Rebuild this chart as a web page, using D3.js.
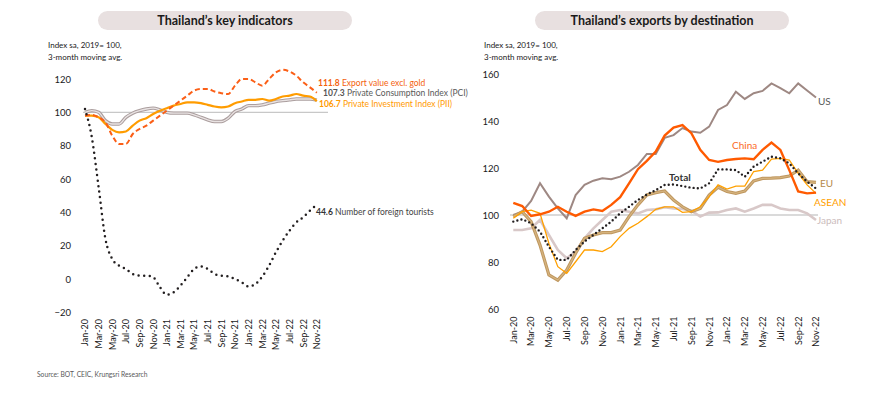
<!DOCTYPE html>
<html><head><meta charset="utf-8">
<script src="https://cdn.jsdelivr.net/npm/d3@7/dist/d3.min.js"></script>
<style>
html,body{margin:0;padding:0;background:#fff;}
svg{display:block;font-family:Lato,"Open Sans",sans-serif;}
</style></head>
<body>
<svg id="c" width="870" height="398"></svg>
<script>
const months = ["Jan-20","Feb-20","Mar-20","Apr-20","May-20","Jun-20","Jul-20","Aug-20","Sep-20","Oct-20","Nov-20","Dec-20",
"Jan-21","Feb-21","Mar-21","Apr-21","May-21","Jun-21","Jul-21","Aug-21","Sep-21","Oct-21","Nov-21","Dec-21",
"Jan-22","Feb-22","Mar-22","Apr-22","May-22","Jun-22","Jul-22","Aug-22","Sep-22","Oct-22","Nov-22"];
const tickMonths = ["Jan-20","Mar-20","May-20","Jul-20","Sep-20","Nov-20","Jan-21","Mar-21","May-21","Jul-21","Sep-21","Nov-21","Jan-22","Mar-22","May-22","Jul-22","Sep-22","Nov-22"];
const leftTicks = [-20,0,20,40,60,80,100,120];
const rightTicks = [60,80,100,120,140,160];

// Left chart: Thailand's key indicators
const exportExGold = [98,98.5,97,94,86,81,81,87,90,92,95,98,101,104,107,110,113,114,114,112.5,111.5,111,116,120,120,118,116,120,124,125.5,124.5,122,118,115,111.8];
const pci = [100,101,100,95,93,93,97,99.5,101,102,102.5,101.5,100,99.5,99.5,99.5,98.5,97,95.5,94.5,94.5,96.5,100.5,102,104,104,104.5,105.5,106.5,107,107.5,108,108,108,107.3];
const pii = [98,98,97,93,89.5,88,88.5,92,95,96.5,99,101,102.5,104,105,106,106,105.5,104.5,103.5,103,103.5,105.5,106.5,107.5,107.5,108,107,108,109.5,110,111,110,109.5,106.7];
const tourists = [102,85,55,24,12,8,6,3,2,2,1,-5,-9.5,-8,-4,1,6,7.5,6,3,2,1.5,0,-2,-4.5,-3,1.5,8,16,23,29,34,37,41,44.6];

// Right chart: Thailand's exports by destination
const us = [100,101.4,106,113.5,107.8,102.8,98.6,108.5,112.8,114.6,115.6,115.2,116.3,118.4,121.3,126,126,132.8,134,137,135.5,135,137.6,144.7,146.8,152.5,149.4,151.8,152.8,156,154,151.8,156,153,150];
const china = [105.2,103.8,99.6,100.3,101.4,103.5,101.4,99.6,101.4,102.4,101.7,104.3,107.6,113.5,119.5,123,127,133.8,137.2,138.3,134.8,127.7,123.4,122.6,123.4,123.8,124.1,123.7,127.7,130.8,127.7,119.1,110,109.2,109.5];
const total = [97.2,98.2,96.5,92.9,86.5,80.9,80.9,85.1,88.7,91.5,94.3,97.2,100.7,103.5,106.4,108.7,110.6,112.8,113,112.3,111.6,111.3,113.5,119.4,119.4,119.1,116.3,120.6,122.7,124.8,124.1,122,117.7,114.2,111.3];
const eu = [99.3,101.4,97.2,87.2,74.5,72.3,76.6,83.7,90.1,91.5,92.5,92.5,93.6,99.3,104.3,108.5,109.5,110.2,106.4,103.5,101.4,102.8,108.5,111.8,110,109.2,110.2,114.5,115.6,115.7,115.9,116.6,119.1,114.2,113.9];
const asean = [98.6,101.4,102.1,100.7,87.9,78,75.2,80.1,85.1,85.1,84.4,86.5,90.8,94.3,96.5,99.3,102.4,103.5,103.5,101.1,101.4,103.5,107.8,112.8,111,112.3,112.3,118.5,119.1,123.8,124.1,123.4,117.7,112.8,109.2];
const japan = [93.6,93.6,94.3,97.9,91.5,85.1,81.6,84.4,90.1,94.3,97.9,101.4,102.1,101.4,100.7,102.1,102.4,103.3,102.8,102.6,101.8,99.3,101,101.1,102.1,102.8,101.4,102.8,104.3,104.3,102.8,102.1,102.1,100.7,97.9];

const svg = d3.select("#c");

// Title pills
function title(cx, text){
  svg.append("rect").attr("x",cx-127).attr("y",11).attr("width",254).attr("height",19)
    .attr("rx",9.5).attr("fill","#e8e0e0");
  svg.append("text").attr("x",cx).attr("y",20.5).attr("text-anchor","middle")
    .attr("dominant-baseline","central").attr("font-size",12.5).attr("font-weight","bold")
    .attr("fill","#1a1a1a").text(text);
}
title(225,"Thailand’s key indicators");
title(662,"Thailand’s exports by destination");

function subtitle(x){
  const t = svg.append("text").attr("font-size",8).attr("fill","#1a1a1a");
  t.append("tspan").attr("x",x).attr("y",48).text("Index sa, 2019= 100,");
  t.append("tspan").attr("x",x).attr("y",60).text("3-month moving avg.");
}
subtitle(48); subtitle(484);

// ---------- Left chart ----------
const xL = d3.scalePoint().domain(months).range([85,316.8]);
const yL = d3.scaleLinear().domain([-20,120]).range([312.3,79]);

const gL = svg.append("g");
const axYL = d3.axisLeft(yL).tickValues(leftTicks).tickSize(0).tickPadding(0);
gL.append("g").attr("transform","translate(71,0)").call(axYL)
  .call(g=>g.select(".domain").remove())
  .call(g=>g.selectAll("text").attr("font-size",9.5).attr("fill","#1a1a1a").attr("font-family","Lato,sans-serif"));
const axXL = d3.axisBottom(xL).tickValues(tickMonths).tickSize(0);
gL.append("g").attr("transform","translate(0,319)").call(axXL)
  .call(g=>g.select(".domain").remove())
  .call(g=>g.selectAll("text").attr("font-size",9).attr("fill","#1a1a1a").attr("font-family","Lato,sans-serif")
     .attr("text-anchor","end").attr("transform","rotate(-90)").attr("dy","0.32em").attr("x",0).attr("y",0));

gL.append("line").attr("x1",83).attr("x2",328).attr("y1",yL(100)).attr("y2",yL(100))
  .attr("stroke","#c8c8c8").attr("stroke-width",1.2);

const lineL = d3.line().x((d,i)=>xL(months[i])).y(d=>yL(d)).curve(d3.curveMonotoneX);
gL.append("path").attr("d",lineL(pci)).attr("fill","none").attr("stroke","#ab9e9e").attr("stroke-width",3.4);
gL.append("path").attr("d",lineL(pci)).attr("fill","none").attr("stroke","#e9e3e3").attr("stroke-width",1.3);
gL.append("path").attr("d",lineL(pii)).attr("fill","none").attr("stroke","#ff9c00").attr("stroke-width",2.2);
gL.append("path").attr("d",lineL(exportExGold)).attr("fill","none").attr("stroke","#fb5f17").attr("stroke-width",2)
  .attr("stroke-dasharray","5,3");
gL.append("path").attr("d",lineL(tourists)).attr("fill","none").attr("stroke","#231f20").attr("stroke-width",2.5)
  .attr("stroke-linecap","round").attr("stroke-dasharray","0,5.6");

function endLabel(g,x,y,val,txt,colBold,col){
  const t = g.append("text").attr("x",x).attr("y",y).attr("dominant-baseline","central").attr("font-size",8.5);
  t.append("tspan").attr("font-weight","bold").attr("fill",colBold).text(val);
  t.append("tspan").attr("fill",col).text(" "+txt);
}
endLabel(gL,318,82.5,"111.8","Export value excl. gold","#f4620e","#f4620e");
endLabel(gL,323,92.5,"107.3","Private Consumption Index (PCI)","#555","#595959");
endLabel(gL,319,104,"106.7","Private Investment Index (PII)","#ff9a00","#ff9a00");
endLabel(gL,316,212,"44.6","Number of foreign tourists","#333","#444");

svg.append("text").attr("x",37).attr("y",374).attr("dominant-baseline","central").attr("font-size",6.7).attr("fill","#595959")
  .text("Source: BOT, CEIC, Krungsri Research");

// ---------- Right chart ----------
const xR = d3.scalePoint().domain(months).range([513.3,816]);
const yR = d3.scaleLinear().domain([60,160]).range([309,74]);
const gR = svg.append("g");
const axYR = d3.axisLeft(yR).tickValues(rightTicks).tickSize(0).tickPadding(0);
gR.append("g").attr("transform","translate(499,0)").call(axYR)
  .call(g=>g.select(".domain").remove())
  .call(g=>g.selectAll("text").attr("font-size",9.5).attr("fill","#1a1a1a").attr("font-family","Lato,sans-serif"));
const axXR = d3.axisBottom(xR).tickValues(tickMonths).tickSize(0);
gR.append("g").attr("transform","translate(0,316.5)").call(axXR)
  .call(g=>g.select(".domain").remove())
  .call(g=>g.selectAll("text").attr("font-size",9).attr("fill","#1a1a1a").attr("font-family","Lato,sans-serif")
     .attr("text-anchor","end").attr("transform","rotate(-90)").attr("dy","0.32em").attr("x",0).attr("y",0));

gR.append("line").attr("x1",510).attr("x2",818).attr("y1",yR(100)).attr("y2",yR(100))
  .attr("stroke","#b5b5b5").attr("stroke-width",1.1);

const lineR = d3.line().x((d,i)=>xR(months[i])).y(d=>yR(d));
gR.append("path").attr("d",lineR(japan)).attr("fill","none").attr("stroke","#d8c8c8").attr("stroke-width",2.6);
gR.append("path").attr("d",lineR(us)).attr("fill","none").attr("stroke","#9e8883").attr("stroke-width",2);
gR.append("path").attr("d",lineR(eu)).attr("fill","none").attr("stroke","#bf975f").attr("stroke-width",3.2);
gR.append("path").attr("d",lineR(eu)).attr("fill","none").attr("stroke","#d6b47f").attr("stroke-width",1.2);
gR.append("path").attr("d",lineR(asean)).attr("fill","none").attr("stroke","#ffa000").attr("stroke-width",1.3);
gR.append("path").attr("d",lineR(china)).attr("fill","none").attr("stroke","#ff5a00").attr("stroke-width",2.4);
gR.append("path").attr("d",lineR(total)).attr("fill","none").attr("stroke","#231f20").attr("stroke-width",2.4)
  .attr("stroke-linecap","round").attr("stroke-dasharray","0,4.2");

function lab(x,y,txt,col,bold){
  gR.append("text").attr("x",x).attr("y",y).attr("dominant-baseline","central").attr("font-size",10)
    .attr("font-weight",bold?"bold":"normal").attr("fill",col).text(txt);
}
lab(818,101,"US","#595959");
lab(732,145,"China","#fb6a1e");
lab(669,177,"Total","#333",true);
lab(820,182.5,"EU","#b58a4c");
lab(814,201.5,"ASEAN","#ffa000");
lab(817,220,"Japan","#cbbcbc");
</script>
</body></html>
